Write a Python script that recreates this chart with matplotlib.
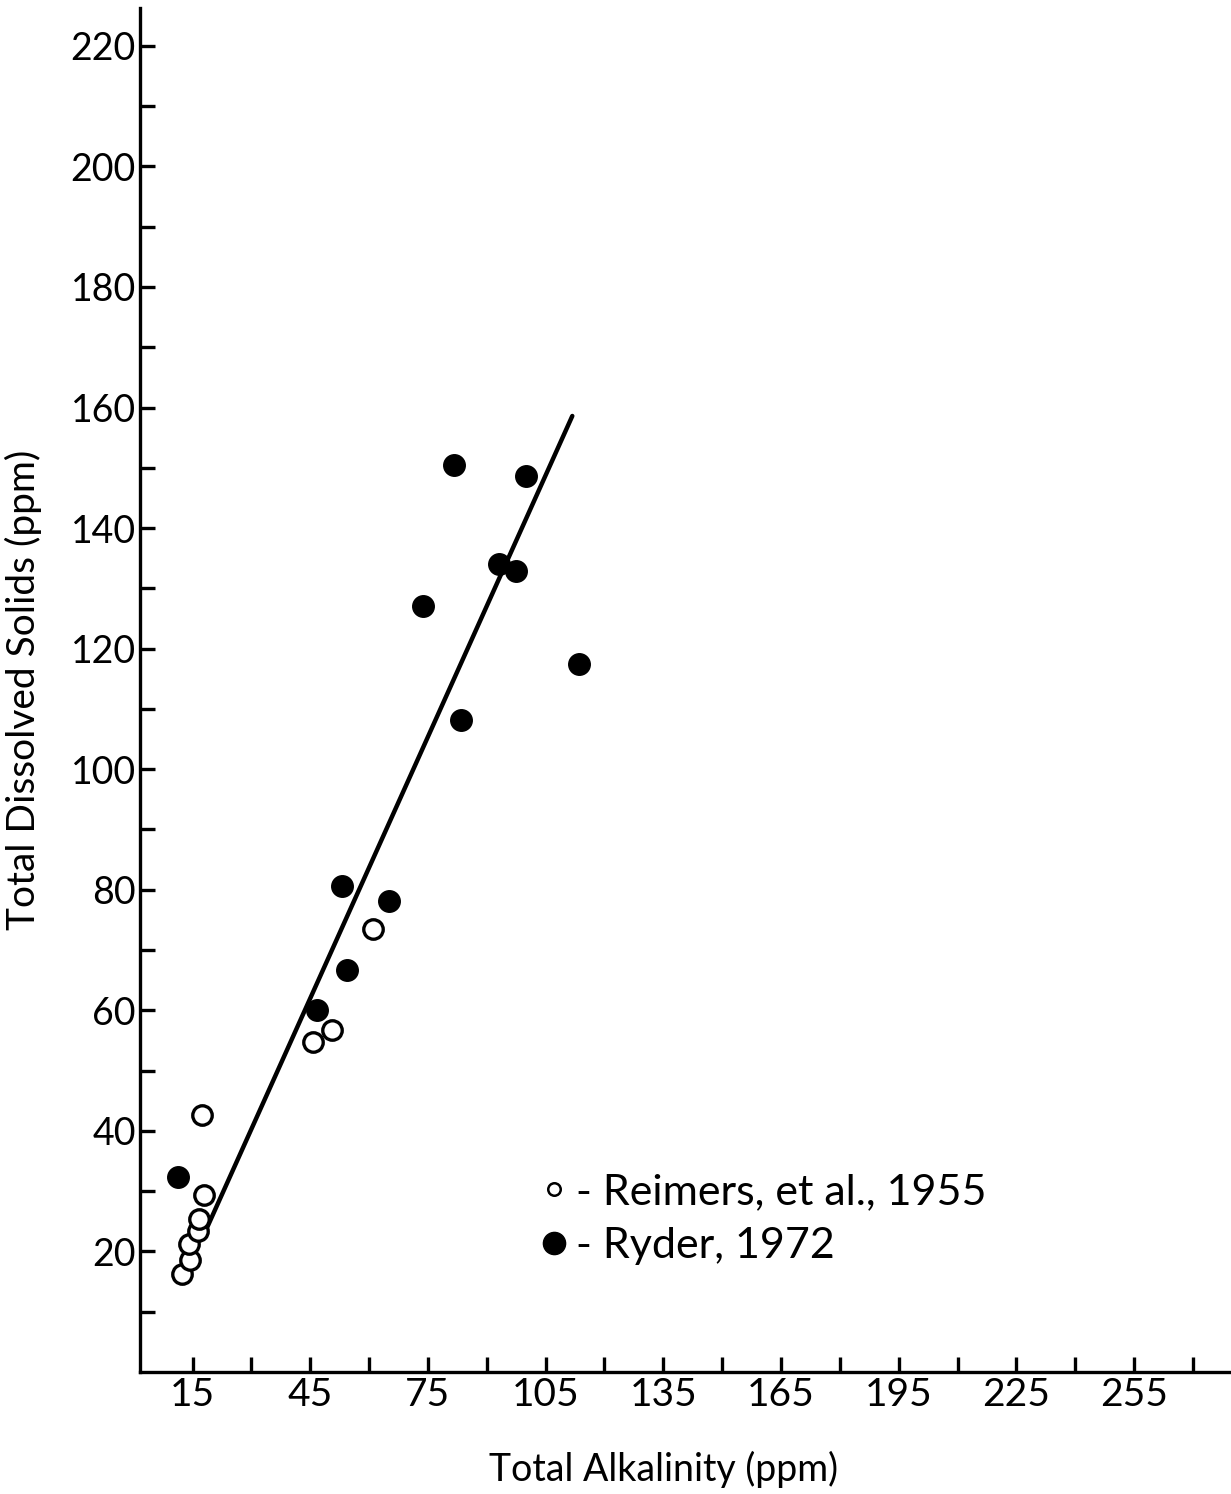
import matplotlib
matplotlib.use("Agg")
import matplotlib.pyplot as plt
from matplotlib.lines import Line2D

plt.rcParams['font.family'] = ['Lato', 'DejaVu Sans']

# Reimers, et al., 1955 (open circles)
reimers_alk = [12.4, 14.4, 14.2, 16.5, 16.7, 17.9, 17.3, 45.6, 50.5, 61.1]
reimers_tds = [16.3, 18.5, 21.3, 23.4, 25.3, 29.4, 42.6, 54.7, 56.7, 73.5]

# Ryder, 1972 (filled circles)
ryder_alk = [11.4, 46.8, 53.2, 54.4, 65.1, 73.7, 81.6, 83.4, 93.2, 97.4, 100.0, 113.5]
ryder_tds = [32.3, 60.0, 80.7, 66.7, 78.1, 127.0, 150.5, 108.2, 134.1, 132.9, 148.6, 117.5]

# fitted line end points
fit_alk = [17.7, 111.8]
fit_tds = [22.5, 158.6]

x_labels = [15, 45, 75, 105, 135, 165, 195, 225, 255]
x_minor = [30, 60, 90, 120, 150, 180, 210, 240, 270]
y_labels = [20, 40, 60, 80, 100, 120, 140, 160, 180, 200, 220]
y_minor = [10, 30, 50, 70, 90, 110, 130, 150, 170, 190, 210]

fig = plt.figure(figsize=(12.31, 14.94), dpi=100)
ax = fig.add_axes([0.1137, 0.0817, 0.886, 0.913])

ax.plot(fit_alk, fit_tds, color='black', lw=3.2, solid_capstyle='round', zorder=2)
ax.plot(reimers_alk, reimers_tds, 'o', ms=14, mfc='white', mec='black', mew=2.4, zorder=3)
ax.plot(ryder_alk, ryder_tds, 'o', ms=15.5, mfc='black', mec='black', zorder=3)

ax.set_xlim(1.6, 279.6)
ax.set_ylim(0, 226.3)

for s in ['top', 'right']:
    ax.spines[s].set_visible(False)
for s in ['left', 'bottom']:
    ax.spines[s].set_linewidth(2.4)

ax.set_xticks(x_labels)
ax.set_xticklabels([str(v) for v in x_labels])
ax.set_xticks(x_minor, minor=True)
ax.set_yticks(y_labels)
ax.set_yticklabels([str(v) for v in y_labels])
ax.set_yticks(y_minor, minor=True)

ax.tick_params(which='both', direction='in', length=11, width=2.4)
ax.tick_params(axis='x', which='major', labelsize=28, pad=4)
ax.tick_params(axis='y', which='major', labelsize=27, pad=3)

ax.set_ylabel('Total Dissolved Solids (ppm)', fontsize=28)
ax.yaxis.set_label_coords(-0.09, 0.5)
ax.set_xlabel('Total Alkalinity (ppm)', fontsize=27)
ax.xaxis.set_label_coords(0.48, -0.058)

handles = [
    Line2D([], [], ls='none', marker='o', ms=9, mfc='white', mec='black', mew=1.8),
    Line2D([], [], ls='none', marker='o', ms=16, mfc='black', mec='black'),
]
ax.legend(handles, ['- Reimers, et al., 1955', '- Ryder, 1972'],
          loc='upper left', bbox_to_anchor=(0.368, 0.146), frameon=False,
          handlelength=0.6, handletextpad=0.2, labelspacing=0.38,
          borderpad=0, borderaxespad=0, prop={'size': 31})

fig.savefig('out.png', dpi=100)
